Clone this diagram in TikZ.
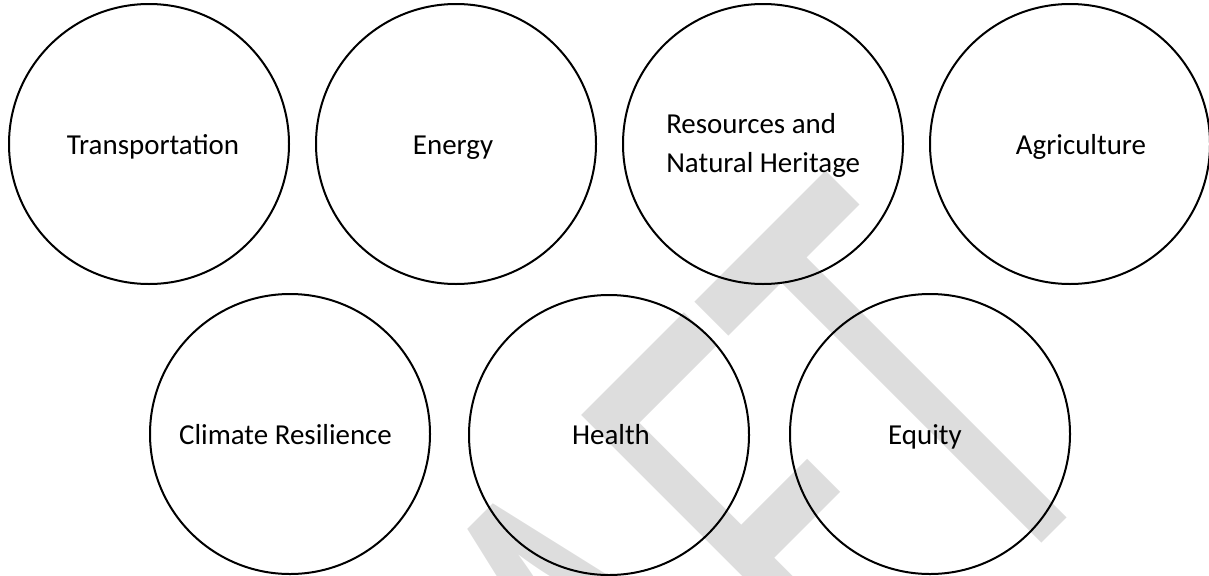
\documentclass[tikz,border=0pt]{standalone}
\usepackage{fontspec}
\setmainfont{Carlito}
\usetikzlibrary{calc}
\definecolor{wmgray}{RGB}{221,221,221}
\tikzset{
  topic/.style={circle, draw=black, line width=1.5pt, minimum size=210pt, inner sep=0pt},
  lbl/.style={font=\fontsize{21.7}{29.25}\selectfont, inner sep=0pt, anchor=base},
  wm/.style={text=wmgray, font=\fontsize{300}{300}\selectfont, inner sep=0pt,
    anchor=base east, rotate=45, yscale=1.62, transform shape}
}
\begin{document}
\begin{tikzpicture}[x=0.75pt,y=-0.75pt]
\useasboundingbox (0,0) rectangle (1209,575);
\clip (0,0) rectangle (1209,575);
% background watermark
\node[wm] (draft) at (1124,461) {DRAFT};
% first row
\node[topic] (transport) at (149,144) {};
\node[topic] (energy)    at (456,144) {};
\node[topic] (resources) at (763,144) {};
\node[topic] (agri)      at (1070,144) {};
% second row
\node[topic] (climate) at (290,434) {};
\node[topic] (health)  at (609,435) {};
\node[topic] (equity)  at (930,434) {};
% labels
\node[lbl] (transport-t) at ($(transport)+(4,10)$) {Transportation};
\node[lbl] (energy-t)    at ($(energy)+(-3,10)$) {Energy};
\node[lbl, anchor=base west, align=left] (resources-t) at ($(resources)+(-97,28)$) {Resources and\\Natural Heritage};
\node[lbl] (agri-t)      at ($(agri)+(11,10)$) {Agriculture};
\node[lbl] (climate-t)   at ($(climate)+(-4.5,10)$) {Climate Resilience};
\node[lbl] (health-t)    at ($(health)+(2,9)$) {Health};
\node[lbl] (equity-t)    at ($(equity)+(-5,10)$) {Equity};
\end{tikzpicture}
\end{document}
